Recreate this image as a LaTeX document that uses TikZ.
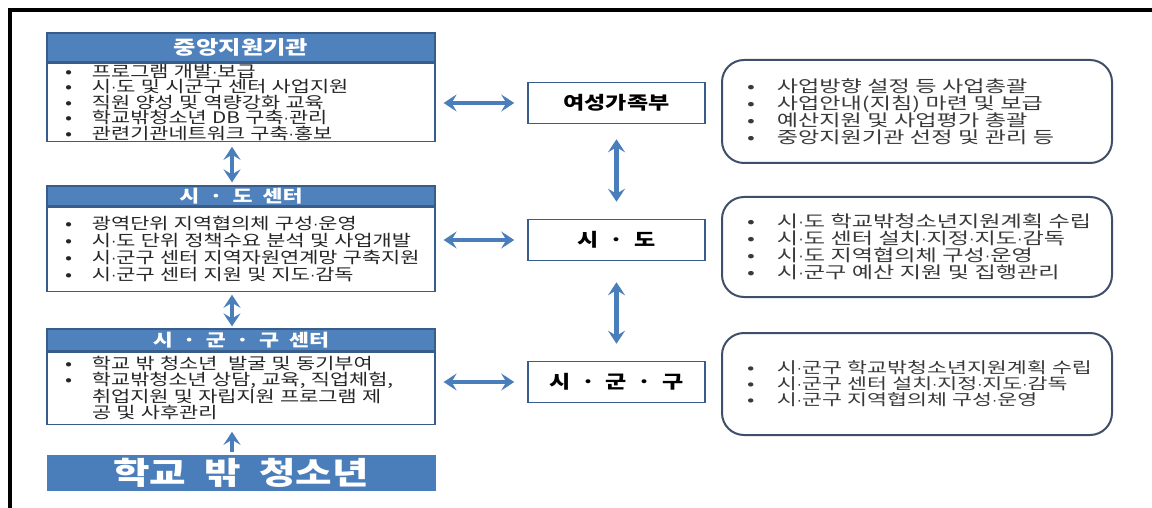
\documentclass[tikz,border=0pt]{standalone}
\usepackage{fontspec}
\setmainfont{Noto Sans CJK KR}[WordSpace=2]
\newfontfamily\krl{Noto Sans CJK KR}[FakeStretch=1.3,WordSpace=2]
\newfontfamily\krr{Noto Sans CJK KR}[FakeStretch=1.4,WordSpace=2]
\newfontfamily\krh{Noto Sans CJK KR}[FakeStretch=1.28,WordSpace=2]
\newfontfamily\latn{Liberation Sans}
\usetikzlibrary{positioning,arrows.meta}
\definecolor{hdrblue}{HTML}{4F81BD}
\definecolor{lineblue}{HTML}{385D8A}
\definecolor{arrblue}{HTML}{4A7EBB}
\definecolor{slate}{HTML}{3F4F69}
\definecolor{txtgray}{HTML}{3A3A3A}
\newcommand{\md}{{\latn ·}}
\newcommand{\itm}[1]{\hspace*{7pt}\makebox[27pt][l]{•}\mbox{#1}}
\newcommand{\cont}[1]{\hspace*{34pt}\mbox{#1}}
\newcommand{\ritm}[1]{\hspace*{7pt}\makebox[30pt][l]{•}\mbox{#1}}
\tikzset{%
    hdr/.style={draw=lineblue,line width=1.2pt,fill=hdrblue,text=white,minimum width=388pt,inner sep=0pt,
        font=\krh\bfseries\fontsize{17pt}{17pt}\selectfont},
    body/.style={draw=lineblue,line width=1.2pt,fill=white,minimum width=388pt,text width=366pt,
        inner xsep=11pt,inner ysep=0pt,align=left,text=black!85,font=\krl\fontsize{16pt}{15.5pt}\selectfont}
}

\begin{document}
\begin{tikzpicture}[
        x=1pt,y=-1pt,
        midbox/.style={draw=lineblue,line width=1.5pt,fill=white,minimum width=177pt,minimum height=41pt,
            inner sep=0pt,font=\krh\bfseries\fontsize{18pt}{18pt}\selectfont},
        rbox/.style={draw=slate,line width=2pt,rounded corners=22pt,fill=white,minimum width=390pt,
            text width=354pt,inner xsep=18pt,inner ysep=0pt,align=left,text=txtgray,
            font=\krr\fontsize{16.5pt}{17pt}\selectfont},
        arr/.style={draw=arrblue,line width=4.5pt,{Stealth[length=13pt,width=17pt,inset=5pt]}-{Stealth[length=13pt,width=17pt,inset=5pt]}},
        uparr/.style={draw=arrblue,line width=4.5pt,-{Stealth[length=13pt,width=17pt,inset=5pt]}}
        ]
        \useasboundingbox (0,0) rectangle (1152,508);
        \draw[line width=3.5pt] (1170,10) -| (10,520);

        \node[hdr,minimum height=29pt,font=\krh\bfseries\fontsize{19pt}{19pt}\selectfont] (cjh) at (241,47.5) {중앙지원기관};
        \node[body,minimum height=78pt,below=0pt of cjh] (cjb) {%
            \itm{프로그램 개발\md 보급}\\
            \itm{시\md 도 및 시군구 센터 사업지원}\\
            \itm{직원 양성 및 역량강화 교육}\\
            \itm{학교밖청소년 DB 구축\md 관리}\\
            \itm{관련기관네트워크 구축\md 홍보}};

        \node[hdr,minimum height=20pt] (sdh) at (241,196) {시 · 도 센터};
        \node[body,minimum height=84pt,below=0pt of sdh,font=\krl\fontsize{16pt}{17pt}\selectfont] (sdb) {%
            \itm{\makebox[322pt][s]{광역단위 지역협의체 구성\md 운영}}\\
            \itm{시\md 도 단위 정책수요 분석 및 사업개발}\\
            \itm{시\md 군구 센터 지역자원연계망 구축지원}\\
            \itm{시\md 군구 센터 지원 및 지도\md 감독}};

        \node[hdr,minimum height=22pt] (sgh) at (241,340) {시 · 군 · 구 센터};
        \node[body,minimum height=72pt,below=0pt of sgh,font=\krl\fontsize{16pt}{16.5pt}\selectfont] (sgb) {%
            \itm{학교 밖 청소년 \ 발굴 및 동기부여}\\
            \itm{학교밖청소년 상담, 교육, 직업체험,}\\
            \cont{취업지원 및 자립지원 프로그램 제}\\
            \cont{공 및 사후관리}};

        \node[draw=arrblue,fill=arrblue,text=white,minimum width=388pt,minimum height=35pt,inner sep=0pt,
            font=\krh\bfseries\fontsize{31pt}{31pt}\selectfont] (kid) at (241,472.5) {학교 밖 청소년};

        \node[midbox] (yg) at (616.5,103) {여성가족부};
        \node[midbox] (sd) at (616.5,240) {시 · 도};
        \node[midbox] (sgg) at (616.5,382) {시 · 군 · 구};

        \node[rbox,minimum height=103pt] (ra) at (917,111.5) {%
            \ritm{\makebox[280pt][s]{사업방향 설정 등 사업총괄}}\\
            \ritm{사업안내(지침) 마련 및 보급}\\
            \ritm{예산지원 및 사업평가 총괄}\\
            \ritm{중앙지원기관 선정 및 관리 등}};
        \node[rbox,minimum height=100pt] (rb) at (917,247) {%
            \ritm{시\md 도 학교밖청소년지원계획 수립}\\
            \ritm{시\md 도 센터 설치\md 지정\md 지도\md 감독}\\
            \ritm{시\md 도 지역협의체 구성\md 운영}\\
            \ritm{시\md 군구 예산 지원 및 집행관리}};
        \node[rbox,minimum height=102pt,font=\krr\fontsize{15.5pt}{16pt}\selectfont] (rc) at (917,384) {%
            \ritm{시\md 군구 학교밖청소년지원계획 수립}\\
            \ritm{시\md 군구 센터 설치\md 지정\md 지도\md 감독}\\
            \ritm{시\md 군구 지역협의체 구성\md 운영}};

        \draw[arr,shorten <=5pt,shorten >=3pt] ([xshift=-9pt]cjb.south) -- ([xshift=-9pt]sdh.north);
        \draw[arr,shorten <=3pt,shorten >=2pt] ([xshift=-9pt]sdb.south) -- ([xshift=-9pt]sgh.north);
        \draw[uparr,shorten <=3pt,shorten >=7pt] ([xshift=-9pt]kid.north) -- ([xshift=-9pt]sgb.south);

        \draw[arr,shorten <=8pt,shorten >=13pt] (cjb.east |- yg.west) -- (yg.west);
        \draw[arr,shorten <=8pt,shorten >=13pt] (sdb.east |- sd.west) -- (sd.west);
        \draw[arr,shorten <=8pt,shorten >=13pt] (sgb.east |- sgg.west) -- (sgg.west);

        \draw[arr,shorten <=15pt,shorten >=17pt] (yg.south) -- (sd.north);
        \draw[arr,shorten <=21pt,shorten >=17pt] (sd.south) -- (sgg.north);
    \end{tikzpicture}
\end{document}
